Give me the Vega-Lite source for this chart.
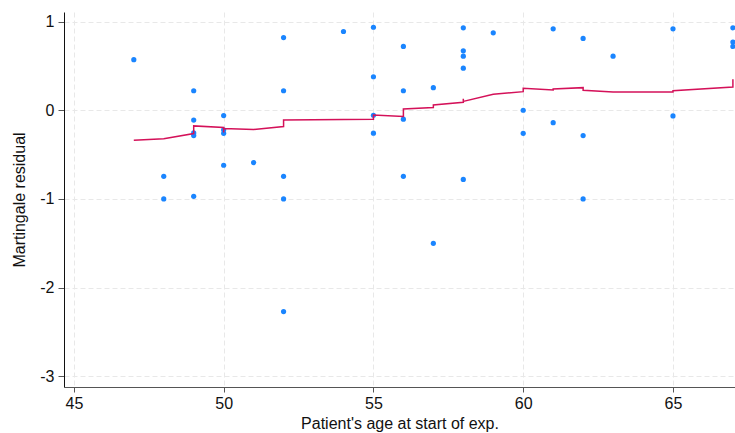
{
  "$schema": "https://vega.github.io/schema/vega-lite/v6.json",
  "width": 671,
  "height": 375,
  "autosize": {"type": "none"},
  "padding": {"left": 64, "top": 12, "right": 0, "bottom": 46},
  "background": "white",
  "config": {
    "view": {"stroke": null},
    "font": "Liberation Sans",
    "axis": {
      "labelFont": "Liberation Sans",
      "titleFont": "Liberation Sans",
      "labelFontSize": 16,
      "titleFontSize": 16,
      "titleFontWeight": "normal",
      "labelColor": "#111",
      "titleColor": "#111",
      "grid": true,
      "gridColor": "#e8e8e8",
      "gridDash": [5, 3],
      "gridWidth": 1,
      "labelExpr": "'' + datum.value"
    }
  },
  "datasets": {
    "pts": [
      {"age": 47, "res": 0.57},
      {"age": 48, "res": -0.745}, {"age": 48, "res": -1.0},
      {"age": 49, "res": 0.22}, {"age": 49, "res": -0.11}, {"age": 49, "res": -0.255}, {"age": 49, "res": -0.285}, {"age": 49, "res": -0.97},
      {"age": 50, "res": -0.06}, {"age": 50, "res": -0.22}, {"age": 50, "res": -0.26}, {"age": 50, "res": -0.62},
      {"age": 51, "res": -0.59},
      {"age": 52, "res": 0.82}, {"age": 52, "res": 0.22}, {"age": 52, "res": -0.745}, {"age": 52, "res": -1.0}, {"age": 52, "res": -2.27},
      {"age": 54, "res": 0.888},
      {"age": 55, "res": 0.936}, {"age": 55, "res": 0.378}, {"age": 55, "res": -0.056}, {"age": 55, "res": -0.258},
      {"age": 56, "res": 0.72}, {"age": 56, "res": 0.22}, {"age": 56, "res": -0.10}, {"age": 56, "res": -0.745},
      {"age": 57, "res": 0.255}, {"age": 57, "res": -1.5},
      {"age": 58, "res": 0.93}, {"age": 58, "res": 0.67}, {"age": 58, "res": 0.61}, {"age": 58, "res": 0.475}, {"age": 58, "res": -0.78},
      {"age": 59, "res": 0.873},
      {"age": 60, "res": 0.0}, {"age": 60, "res": -0.26},
      {"age": 61, "res": 0.918}, {"age": 61, "res": -0.14},
      {"age": 62, "res": 0.81}, {"age": 62, "res": -0.285}, {"age": 62, "res": -1.0},
      {"age": 63, "res": 0.61},
      {"age": 65, "res": 0.918}, {"age": 65, "res": -0.064},
      {"age": 67, "res": 0.93}, {"age": 67, "res": 0.77}, {"age": 67, "res": 0.72}
    ],
    "smooth": [
      {"i": 1, "age": 47, "res": -0.337},
      {"i": 2, "age": 48, "res": -0.32},
      {"i": 3, "age": 49, "res": -0.262},
      {"i": 4, "age": 49, "res": -0.176},
      {"i": 5, "age": 50, "res": -0.195},
      {"i": 6, "age": 50, "res": -0.25},
      {"i": 7, "age": 50, "res": -0.205},
      {"i": 8, "age": 51, "res": -0.217},
      {"i": 9, "age": 52, "res": -0.183},
      {"i": 10, "age": 52, "res": -0.109},
      {"i": 11, "age": 55, "res": -0.10},
      {"i": 12, "age": 55, "res": -0.053},
      {"i": 13, "age": 56, "res": -0.07},
      {"i": 14, "age": 56, "res": 0.015},
      {"i": 15, "age": 57, "res": 0.03},
      {"i": 16, "age": 57, "res": 0.06},
      {"i": 17, "age": 58, "res": 0.09},
      {"i": 18, "age": 58, "res": 0.13},
      {"i": 19, "age": 58, "res": 0.10},
      {"i": 20, "age": 59, "res": 0.18},
      {"i": 21, "age": 60, "res": 0.21},
      {"i": 22, "age": 60, "res": 0.247},
      {"i": 23, "age": 61, "res": 0.228},
      {"i": 24, "age": 61, "res": 0.24},
      {"i": 25, "age": 62, "res": 0.255},
      {"i": 26, "age": 62, "res": 0.225},
      {"i": 27, "age": 63, "res": 0.206},
      {"i": 28, "age": 65, "res": 0.206},
      {"i": 29, "age": 65, "res": 0.22},
      {"i": 30, "age": 67, "res": 0.262},
      {"i": 31, "age": 67, "res": 0.35}
    ]
  },
  "layer": [
    {
      "data": {"name": "pts"},
      "mark": {"type": "circle", "color": "#1a85ff", "opacity": 1, "size": 27},
      "encoding": {
        "x": {
          "field": "age", "type": "quantitative",
          "scale": {"domain": [44.67, 67.07], "nice": false, "zero": false},
          "axis": {
            "values": [45, 50, 55, 60, 65],
            "title": "Patient's age at start of exp.",
            "domainColor": "#555",
            "tickColor": "#555",
            "tickSize": 5,
            "labelPadding": 3,
            "titlePadding": 4
          }
        },
        "y": {
          "field": "res", "type": "quantitative",
          "scale": {"domain": [-3.12, 1.108], "nice": false, "zero": false},
          "axis": {
            "values": [-3, -2, -1, 0, 1],
            "title": "Martingale residual",
            "domainColor": "#111",
            "tickColor": "#555",
            "tickSize": 6,
            "labelPadding": 4,
            "titlePadding": 12
          }
        }
      }
    },
    {
      "data": {"name": "smooth"},
      "mark": {"type": "line", "color": "#d41159", "strokeWidth": 1.5, "clip": true},
      "encoding": {
        "x": {"field": "age", "type": "quantitative"},
        "y": {"field": "res", "type": "quantitative"},
        "order": {"field": "i", "type": "quantitative"}
      }
    }
  ]
}
